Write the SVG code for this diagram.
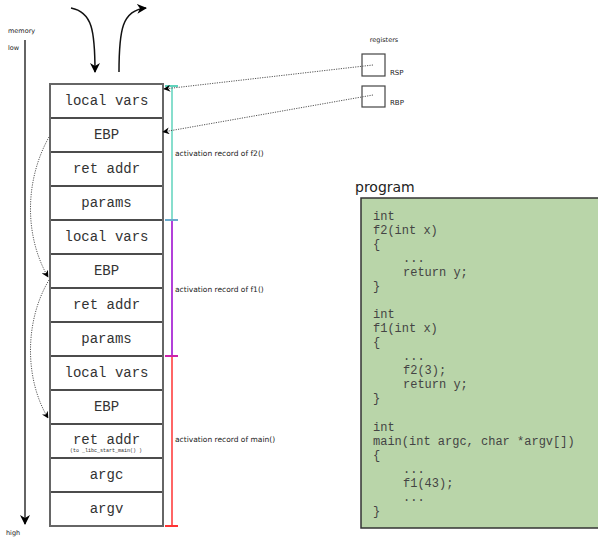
<svg xmlns="http://www.w3.org/2000/svg" width="598" height="537" viewBox="0 0 598 537">
  <style>
    .cell { fill: #ffffff; stroke: none; }
    .sep { stroke: #111111; stroke-width: 1.3; }
    .frame { fill: none; stroke: #666666; stroke-width: 2; }
    .mono { font-family: "Liberation Mono", "Courier New", monospace; fill: #333333; }
    .slot { font-size: 14px; text-anchor: middle; }
    .code { font-size: 12px; fill: #444444; }
    .sans { font-family: "DejaVu Sans", "Liberation Sans", sans-serif; fill: #222222; }
    .lbl { font-size: 7.5px; }
    .dot { fill: none; stroke: #555555; stroke-width: 1; stroke-dasharray: 1.2 1.2; }
    .solid { fill: none; stroke: #111111; stroke-width: 1.5; }
  </style>
  <defs>
    <marker id="ah" viewBox="0 0 10 10" refX="9" refY="5" markerWidth="7" markerHeight="7" orient="auto" markerUnits="userSpaceOnUse">
      <path d="M0,0 L10,5 L0,10 L3,5 Z" fill="#000000"/>
    </marker>
    <marker id="ahb" viewBox="0 0 10 10" refX="9" refY="5" markerWidth="10" markerHeight="10" orient="auto" markerUnits="userSpaceOnUse">
      <path d="M0,0 L10,5 L0,10 L3,5 Z" fill="#000000"/>
    </marker>
  </defs>

  <rect width="598" height="537" fill="#ffffff"/>

  <!-- memory axis -->
  <g id="memory-axis">
    <text class="sans" x="8" y="33" font-size="6.5">memory</text>
    <text class="sans" x="8" y="50" font-size="6.5">low</text>
    <line x1="25" y1="40" x2="25" y2="524" stroke="#111111" stroke-width="1.3" marker-end="url(#ahb)"/>
    <text class="sans" x="6" y="535" font-size="6.5">high</text>
  </g>

  <!-- stack frames -->
  <g id="stack">
    <rect class="cell" x="50" y="84" width="113" height="442"/>
    <g id="slot-f2-locals"><text class="mono slot" x="106.5" y="105">local vars</text></g>
    <g id="slot-f2-ebp"><text class="mono slot" x="106.5" y="139">EBP</text></g>
    <g id="slot-f2-ret"><text class="mono slot" x="106.5" y="173">ret addr</text></g>
    <g id="slot-f2-params"><text class="mono slot" x="106.5" y="207">params</text></g>
    <g id="slot-f1-locals"><text class="mono slot" x="106.5" y="241">local vars</text></g>
    <g id="slot-f1-ebp"><text class="mono slot" x="106.5" y="275">EBP</text></g>
    <g id="slot-f1-ret"><text class="mono slot" x="106.5" y="309">ret addr</text></g>
    <g id="slot-f1-params"><text class="mono slot" x="106.5" y="343">params</text></g>
    <g id="slot-main-locals"><text class="mono slot" x="106.5" y="377">local vars</text></g>
    <g id="slot-main-ebp"><text class="mono slot" x="106.5" y="411">EBP</text></g>
    <g id="slot-main-ret">
      <text class="mono slot" x="106.5" y="444">ret addr</text>
      <text class="mono" x="106" y="452" font-size="5" text-anchor="middle" fill="#555555">(to _libc_start_main() )</text>
    </g>
    <g id="slot-main-argc"><text class="mono slot" x="106.5" y="479">argc</text></g>
    <g id="slot-main-argv"><text class="mono slot" x="106.5" y="513">argv</text></g>
    <g>
      <line class="sep" x1="50" y1="118" x2="163" y2="118"/>
      <line class="sep" x1="50" y1="152" x2="163" y2="152"/>
      <line class="sep" x1="50" y1="186" x2="163" y2="186"/>
      <line class="sep" x1="50" y1="220" x2="163" y2="220"/>
      <line class="sep" x1="50" y1="254" x2="163" y2="254"/>
      <line class="sep" x1="50" y1="288" x2="163" y2="288"/>
      <line class="sep" x1="50" y1="322" x2="163" y2="322"/>
      <line class="sep" x1="50" y1="356" x2="163" y2="356"/>
      <line class="sep" x1="50" y1="390" x2="163" y2="390"/>
      <line class="sep" x1="50" y1="424" x2="163" y2="424"/>
      <line class="sep" x1="50" y1="458" x2="163" y2="458"/>
      <line class="sep" x1="50" y1="492" x2="163" y2="492"/>
    </g>
    <rect class="frame" x="50" y="84" width="113" height="442"/>
  </g>

  <!-- activation record brackets -->
  <g id="record-f2">
    <line x1="172" y1="86" x2="172" y2="220" stroke="#5fd3bc" stroke-width="1.5"/>
    <line x1="165" y1="86" x2="178" y2="86" stroke="#5fd3bc" stroke-width="2"/>
    <text class="sans lbl" x="175" y="156">activation record of f2()</text>
  </g>
  <g id="record-f1">
    <line x1="172" y1="220" x2="172" y2="356" stroke="#9900cc" stroke-width="1.5"/>
    <line x1="165" y1="220" x2="178" y2="220" stroke="#6aaacc" stroke-width="2"/>
    <text class="sans lbl" x="175" y="292">activation record of f1()</text>
  </g>
  <g id="record-main">
    <line x1="172" y1="356" x2="172" y2="526" stroke="#ff3333" stroke-width="1.5"/>
    <line x1="165" y1="356" x2="178" y2="356" stroke="#cc22aa" stroke-width="2"/>
    <line x1="165" y1="526" x2="178" y2="526" stroke="#ff3333" stroke-width="2"/>
    <text class="sans lbl" x="175" y="442">activation record of main()</text>
  </g>

  <!-- registers -->
  <g id="registers">
    <text class="sans" x="384" y="42" font-size="6.5" text-anchor="middle">registers</text>
  </g>
  <g id="reg-rsp">
    <rect x="362" y="54" width="23" height="22" fill="#ffffff" stroke="#444444" stroke-width="1.2"/>
    <text class="sans" x="390" y="75" font-size="7">RSP</text>
  </g>
  <g id="reg-rbp">
    <rect x="362" y="86" width="23" height="21" fill="#ffffff" stroke="#444444" stroke-width="1.2"/>
    <text class="sans" x="390" y="105" font-size="7">RBP</text>
  </g>

  <!-- program listing -->
  <g id="program">
    <text class="sans" x="355" y="192" font-size="14">program</text>
    <rect x="361" y="198" width="250" height="330" fill="#b9d5a9" stroke="#333333" stroke-width="1.5"/>
    <g class="mono code">
      <text x="373" y="220">int</text>
      <text x="373" y="234">f2(int x)</text>
      <text x="373" y="248">{</text>
      <text x="403" y="262">...</text>
      <text x="403" y="276">return y;</text>
      <text x="373" y="290">}</text>
      <text x="373" y="318">int</text>
      <text x="373" y="332">f1(int x)</text>
      <text x="373" y="346">{</text>
      <text x="403" y="360">...</text>
      <text x="403" y="374">f2(3);</text>
      <text x="403" y="388">return y;</text>
      <text x="373" y="402">}</text>
      <text x="373" y="431">int</text>
      <text x="373" y="445">main(int argc, char *argv[])</text>
      <text x="373" y="459">{</text>
      <text x="403" y="473">...</text>
      <text x="403" y="487">f1(43);</text>
      <text x="403" y="501">...</text>
      <text x="373" y="515">}</text>
    </g>
  </g>

  <!-- connectors -->
  <g id="connectors">
    <path class="solid" d="M71,8 C92,12 95,30 95,72" marker-end="url(#ahb)"/>
    <path class="solid" d="M119,72 C119,30 122,10 146,8" marker-end="url(#ahb)"/>
    <path class="dot" d="M373,65 L164,89" marker-end="url(#ah)"/>
    <path class="dot" d="M373,95 L163,132" marker-end="url(#ah)"/>
    <path class="dot" d="M49,137 C25,180 24,235 48,277" marker-end="url(#ah)"/>
    <path class="dot" d="M49,280 C25,320 24,378 48,418" marker-end="url(#ah)"/>
  </g>
</svg>
